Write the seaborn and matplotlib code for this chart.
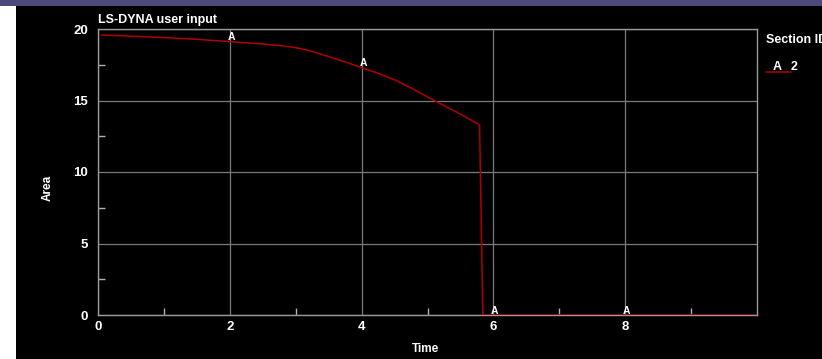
import numpy as np
import pandas as pd
import matplotlib
matplotlib.use("Agg")
import matplotlib.pyplot as plt
import seaborn as sns
from matplotlib.patches import Rectangle
from matplotlib.lines import Line2D

# ---- data ----
time = [0.05, 0.5, 1.0, 1.5, 2.0, 2.5, 2.8, 3.0, 3.2, 3.5, 3.75, 4.0, 4.25, 4.5,
        4.75, 5.0, 5.25, 5.5, 5.79, 5.84, 6.0, 8.0, 10.0]
area = [19.58, 19.5, 19.4, 19.28, 19.12, 18.95, 18.82, 18.7, 18.5, 18.07, 17.7, 17.3,
        16.9, 16.45, 15.88, 15.25, 14.65, 14.05, 13.3, 0.0, 0.0, 0.0, 0.0]
marker_times = [2, 4, 6, 8]
series_label = "A"
series_name = "2"
x_ticks = [0, 2, 4, 6, 8]
y_ticks = [0, 5, 10, 15, 20]
title = "LS-DYNA user input"
legend_title = "Section ID"

sns.set_theme(style="dark")
plt.rcParams["font.family"] = ["Liberation Sans", "DejaVu Sans"]
plt.rcParams["font.weight"] = "bold"

fig = plt.figure(figsize=(8.22, 3.59), dpi=100)
fig.patch.set_facecolor("black")
W, H = 822, 359
# white strip on the left and purple bar on top
fig.patches.append(Rectangle((0, 0), 16 / W, 1, transform=fig.transFigure,
                             facecolor="white", edgecolor="none", zorder=0))
fig.patches.append(Rectangle((0, 1 - 6 / H), 1, 6 / H, transform=fig.transFigure,
                             facecolor="#4b4a7c", edgecolor="none", zorder=0))

ax = fig.add_axes([98 / W, 1 - 315 / H, (757 - 98) / W, (315 - 29) / H])
ax.set_facecolor("black")

df = pd.DataFrame({"Time": time, "Area": area})
sns.lineplot(data=df, x="Time", y="Area", ax=ax, color="#b00000", lw=1.1,
             sort=False, zorder=3, legend=False)

for t in marker_times:
    yv = float(np.interp(t, time, area))
    ax.annotate(series_label, (t, yv), xytext=(1, 3), textcoords="offset points",
                ha="center", va="center", color="white", fontsize=7.5,
                fontweight="bold", zorder=4, annotation_clip=False)

ax.set_xlim(0, 10)
ax.set_ylim(0, 20)
ax.set_xticks(x_ticks)
ax.set_yticks(y_ticks)
ax.set_xticks([1, 3, 5, 7, 9], minor=True)
ax.set_yticks([2.5, 7.5, 12.5, 17.5], minor=True)
ax.grid(True, which="major", color="#7a7a7a", lw=0.9)
ax.grid(False, which="minor")
for s in ax.spines.values():
    s.set_visible(True)
    s.set_color("#9a9a9a")
    s.set_linewidth(1.0)

ax.tick_params(axis="x", which="major", direction="in", length=5, width=1,
               colors="#b0b0b0", labelcolor="white", labelsize=9.5, pad=4)
ax.tick_params(axis="y", which="major", direction="out", length=5, width=1,
               colors="#b0b0b0", labelcolor="white", labelsize=9.5, pad=2)
ax.tick_params(which="minor", direction="in", length=5, width=1,
               colors="#b0b0b0", bottom=True, left=True)
for lab in ax.get_xticklabels() + ax.get_yticklabels():
    lab.set_fontweight("bold")

ax.set_xlabel("Time", color="white", fontsize=8.5, fontweight="bold")
ax.set_ylabel("Area", color="white", fontsize=8.5, fontweight="bold")
ax.xaxis.set_label_coords((426 - 98) / (757 - 98), -(343 - 315) / (315 - 29))
ax.yaxis.set_label_coords(-(98 - 54) / (757 - 98), (315 - 188) / (315 - 29))

fig.text(98 / W, 1 - 20 / H, title, color="white", fontsize=9,
         fontweight="bold", ha="left", va="center")

# legend drawn at right
fig.text(766 / W, 1 - 40 / H, legend_title, color="white", fontsize=9,
         fontweight="bold", ha="left", va="center")
fig.text(773 / W, 1 - 67 / H, series_label, color="white", fontsize=9,
         fontweight="bold", ha="left", va="center")
fig.text(791 / W, 1 - 67 / H, series_name, color="white", fontsize=9,
         fontweight="bold", ha="left", va="center")
fig.lines.append(Line2D([766 / W, 791 / W], [1 - 72 / H, 1 - 72 / H],
                        transform=fig.transFigure, color="#b00000", lw=1.1))

fig.savefig("out.png", dpi=100, facecolor=fig.get_facecolor())
